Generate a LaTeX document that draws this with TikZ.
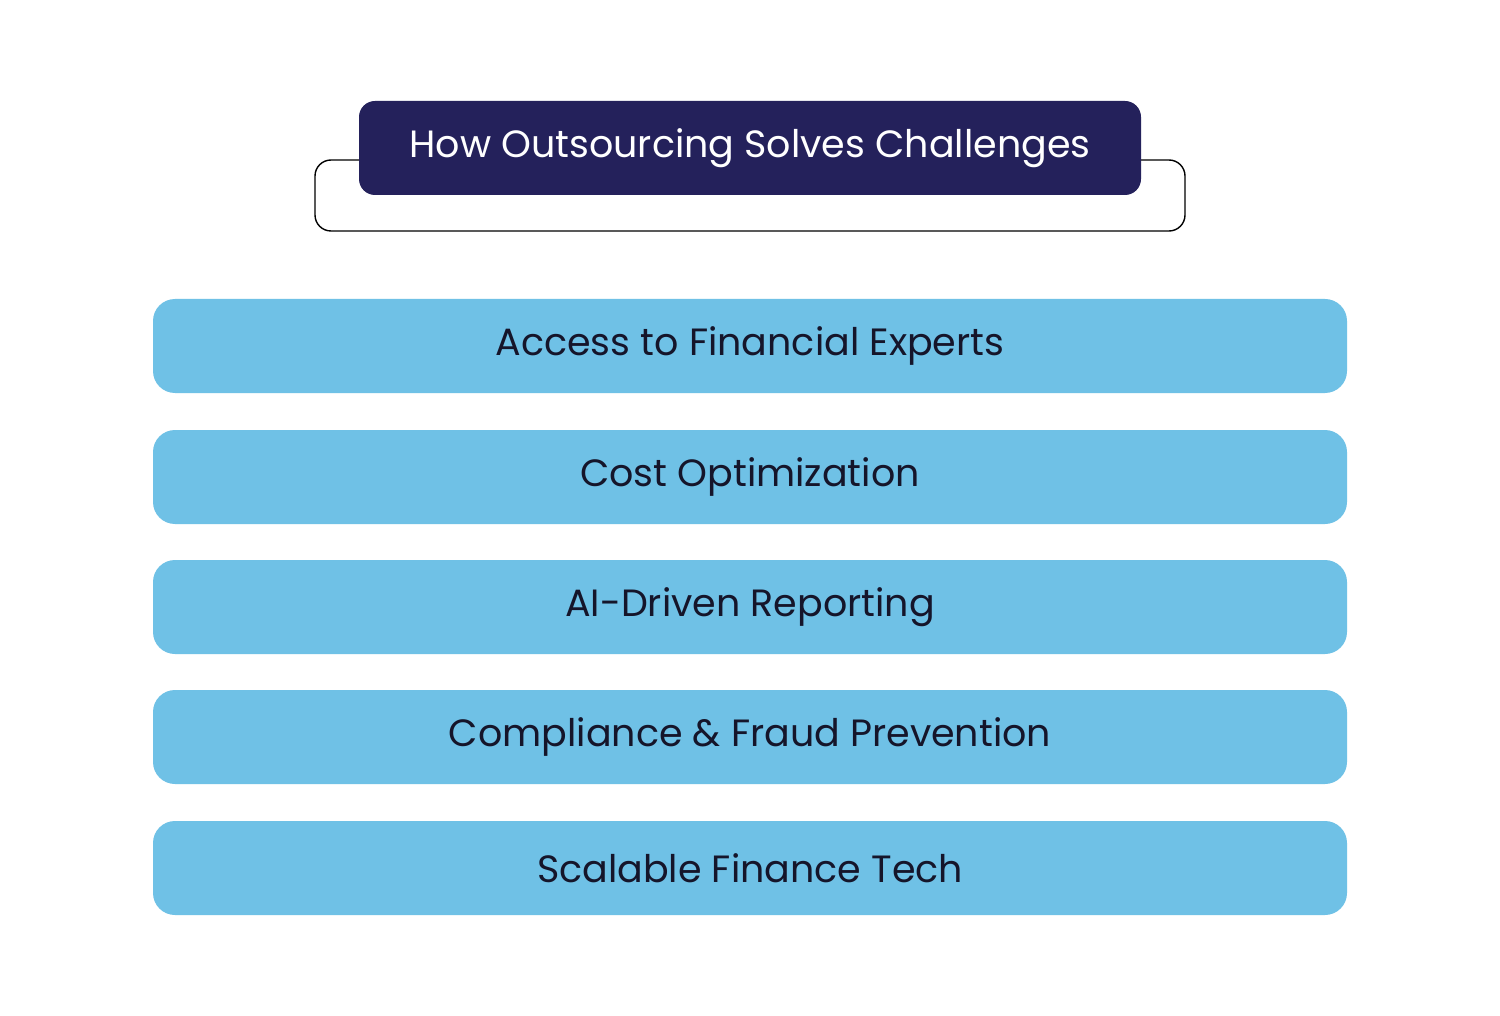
\documentclass[tikz,border=0pt]{standalone}
\usepackage{fontspec}
\setmainfont{Poppins}
\definecolor{navy}{HTML}{24215B}
\definecolor{sky}{HTML}{6FC1E6}
\definecolor{ink}{HTML}{15152A}
\begin{document}
\begin{tikzpicture}[x=0.5pt,y=-0.5pt,
  item/.style={fill=sky,rounded corners=11pt},
  lbl/.style={text=ink,font=\fontsize{19}{22}\selectfont,anchor=center}]
\useasboundingbox (0,0) rectangle (1500,1016);
\fill[white] (0,0) rectangle (1500,1016);
\draw[line width=0.7pt,rounded corners=8pt] (315,160) rectangle (1185,231);
\fill[navy,rounded corners=8pt] (359,101) rectangle (1141,195);
\node[text=white,font=\fontsize{19}{22}\selectfont] (title) at (750,148) {How Outsourcing Solves Challenges};
\foreach \y/\t/\n in {299/Access to Financial Experts/a,430/Cost Optimization/b,560/AI-Driven Reporting/c,690/Compliance \& Fraud Prevention/d,821/Scalable Finance Tech/e}{
  \fill[item] (153,\y) rectangle (1347,\y+94);
  \node[lbl] (\n) at (750,\y+47) {\t};
}
\end{tikzpicture}
\end{document}
